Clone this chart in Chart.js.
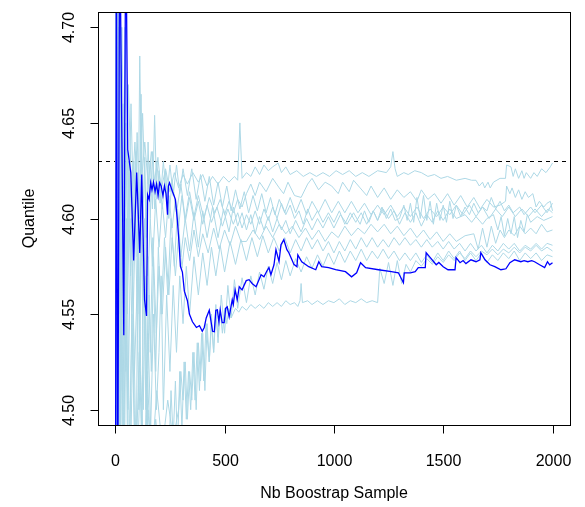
<!DOCTYPE html>
<html>
<head>
<meta charset="utf-8">
<script src="https://cdn.jsdelivr.net/npm/chart.js@4"></script>
<style>
  html, body { margin: 0; padding: 0; background: #fff; }
  canvas { display: block; }
</style>
</head>
<body>
<canvas id="quantileChart" width="585" height="507"></canvas>
<script>
// running quantile estimate vs. number of bootstrap samples: [n, quantile]
const mainRun = [
  [1,4.43],[5,4.76],[11,4.43],[20,4.76],[39,4.539],[48,4.76],[57,4.636],[71,4.624],
  [84,4.578],[98,4.624],[112,4.582],[121,4.623],[134,4.5575],[143,4.549],[148,4.6124],
  [155,4.61],[162,4.6187],[168,4.615],[175,4.619],[182,4.614],[189,4.618],[196,4.612],
  [203,4.6187],[210,4.617],[218,4.612],[225,4.617],[232,4.613],[239,4.602],[243,4.617],
  [248,4.6187],[262,4.614],[275,4.61],[284,4.599],[290,4.59],[298,4.575],[307,4.572],
  [316,4.562],[330,4.557],[339,4.55],[353,4.546],[371,4.543],[385,4.544],[398,4.541],
  [407,4.543],[416,4.548],[430,4.552],[445,4.541],[453,4.5408],[460,4.552],[467,4.5522],
  [474,4.546],[480,4.5522],[489,4.5455],[498,4.5455],[505,4.553],[512,4.5538],[521,4.5486],
  [535,4.5575],[540,4.555],[548,4.5627],[558,4.5575],[567,4.5643],[580,4.5627],[599,4.5675],
  [612,4.568],[626,4.566],[644,4.5643],[667,4.5706],[680,4.5695],[694,4.5727],[703,4.5743],
  [712,4.5706],[726,4.5758],[735,4.5837],[749,4.5775],[758,4.5863],[771,4.5889],[785,4.5837],
  [794,4.5821],[808,4.5784],[817,4.576],[831,4.5748],[835,4.581],[853,4.5774],[885,4.5748],
  [917,4.5732],[931,4.5774],[944,4.5748],[976,4.5743],[1008,4.5732],[1053,4.5722],
  [1081,4.5695],[1104,4.5716],[1122,4.5769],[1145,4.5743],[1204,4.5732],[1263,4.5722],
  [1295,4.5716],[1318,4.5664],[1322,4.5716],[1350,4.5716],[1372,4.5722],[1386,4.5743],
  [1418,4.5743],[1422,4.5821],[1441,4.5795],[1468,4.5758],[1480,4.577],[1500,4.5748],
  [1522,4.5732],[1554,4.5732],[1559,4.5795],[1577,4.5769],[1591,4.578],[1604,4.5764],
  [1627,4.5784],[1650,4.5774],[1668,4.5784],[1672,4.5821],[1691,4.5784],[1714,4.5758],
  [1736,4.5748],[1764,4.5732],[1787,4.5737],[1805,4.5769],[1827,4.5784],[1855,4.5774],
  [1870,4.578],[1887,4.5774],[1905,4.578],[1918,4.5774],[1941,4.5758],[1964,4.5743],
  [1977,4.5774],[1987,4.5758],[2000,4.5769]
];

// replicate runs
const rep1 = [
  [1,4.78],[6,4.42],[12,4.74],[20,4.55],[30,4.70],[45,4.58],[60,4.67],[75,4.61],[90,4.64],
  [105,4.60],[112,4.685],[120,4.62],[135,4.64],[150,4.618],[165,4.635],[180,4.62],[195,4.632],
  [210,4.615],[230,4.626],[250,4.614],[270,4.624],[290,4.616],[310,4.623],[330,4.618],
  [355,4.624],[380,4.619],[400,4.623],[420,4.617],[445,4.622],[470,4.618],[495,4.622],
  [520,4.619],[545,4.622],[560,4.620],[570,4.65],[580,4.621],[600,4.624],[620,4.622],
  [640,4.627],[660,4.623],[680,4.628],[700,4.625],[720,4.627],[745,4.629],[760,4.624],
  [780,4.627],[800,4.623],[830,4.625],[860,4.622],[890,4.624],[920,4.622],[950,4.624],
  [980,4.622],[1010,4.625],[1040,4.623],[1070,4.625],[1100,4.622],[1130,4.624],[1160,4.622],
  [1200,4.625],[1240,4.624],[1260,4.627],[1270,4.635],[1280,4.626],[1290,4.622],[1320,4.624],
  [1340,4.623],[1370,4.625],[1400,4.624],[1430,4.622],[1460,4.623],[1490,4.621],[1520,4.622],
  [1560,4.620],[1600,4.621],[1630,4.62],[1650,4.620],[1665,4.617],[1680,4.619],[1690,4.616],
  [1705,4.619],[1715,4.616],[1730,4.619],[1760,4.621],[1785,4.621],[1790,4.628],[1810,4.627],
  [1820,4.622],[1830,4.626],[1845,4.621],[1860,4.625],[1870,4.621],[1880,4.624],[1900,4.621],
  [1915,4.624],[1930,4.622],[1950,4.626],[1970,4.624],[1990,4.627],[2000,4.629]
];
const rep2 = [
  [1,4.43],[5,4.77],[14,4.50],[25,4.68],[38,4.56],[50,4.65],[70,4.57],[85,4.63],[100,4.58],
  [112,4.61],[125,4.655],[140,4.60],[160,4.63],[170,4.605],[180,4.654],[190,4.61],[200,4.625],
  [215,4.605],[230,4.625],[245,4.60],[260,4.62],[280,4.603],[300,4.618],[320,4.60],[340,4.614],
  [360,4.601],[380,4.612],[405,4.60],[430,4.611],[455,4.603],[480,4.61],[500,4.602],[520,4.609],
  [540,4.603],[560,4.61],[580,4.606],[600,4.613],[620,4.618],[640,4.612],[660,4.619],[690,4.614],
  [720,4.621],[750,4.616],[770,4.613],[790,4.619],[820,4.612],[850,4.611],[880,4.618],
  [900,4.621],[930,4.615],[960,4.619],[990,4.617],[1020,4.613],[1040,4.619],[1070,4.614],
  [1090,4.620],[1120,4.616],[1150,4.612],[1170,4.617],[1200,4.611],[1230,4.616],[1260,4.610],
  [1290,4.615],[1320,4.611],[1350,4.614],[1380,4.609],[1400,4.615],[1430,4.610],[1460,4.613],
  [1490,4.608],[1520,4.613],[1550,4.607],[1580,4.612],[1610,4.606],[1640,4.611],[1670,4.605],
  [1700,4.61],[1730,4.606],[1760,4.607],[1785,4.609],[1790,4.617],[1805,4.613],[1815,4.616],
  [1830,4.611],[1845,4.615],[1860,4.610],[1875,4.614],[1890,4.611],[1910,4.613],[1925,4.606],
  [1940,4.609],[1960,4.606],[1975,4.608],[1990,4.609],[2000,4.604]
];
const rep3 = [
  [1,4.47],[4,4.72],[10,4.41],[18,4.66],[28,4.52],[42,4.64],[55,4.55],[68,4.62],[80,4.57],
  [95,4.635],[110,4.55],[120,4.59],[130,4.56],[140,4.61],[150,4.57],[160,4.60],[170,4.575],
  [185,4.61],[200,4.585],[215,4.608],[230,4.59],[245,4.612],[260,4.595],[275,4.61],[290,4.596],
  [305,4.612],[320,4.598],[340,4.611],[360,4.599],[380,4.609],[400,4.597],[420,4.607],
  [440,4.598],[465,4.606],[490,4.596],[515,4.605],[540,4.597],[560,4.603],[580,4.595],
  [600,4.602],[620,4.597],[640,4.604],[660,4.597],[680,4.605],[700,4.599],[720,4.606],
  [740,4.600],[760,4.608],[780,4.602],[800,4.607],[820,4.600],[840,4.604],[860,4.597],
  [880,4.605],[900,4.599],[925,4.604],[950,4.598],[975,4.603],[1000,4.598],[1025,4.604],
  [1050,4.597],[1075,4.603],[1100,4.598],[1125,4.603],[1150,4.597],[1180,4.604],[1200,4.599],
  [1220,4.606],[1240,4.600],[1260,4.605],[1280,4.599],[1300,4.600],[1320,4.607],[1335,4.599],
  [1350,4.608],[1365,4.598],[1380,4.611],[1395,4.600],[1410,4.612],[1425,4.599],[1440,4.609],
  [1455,4.597],[1470,4.608],[1485,4.599],[1500,4.607],[1515,4.598],[1530,4.609],[1545,4.600],
  [1560,4.607],[1580,4.601],[1600,4.606],[1620,4.602],[1640,4.608],[1660,4.603],[1680,4.606],
  [1700,4.604],[1720,4.611],[1740,4.605],[1760,4.609],[1780,4.604],[1800,4.607],[1820,4.603],
  [1850,4.606],[1870,4.602],[1900,4.606],[1920,4.603],[1950,4.607],[1975,4.603],[2000,4.608]
];
const rep4 = [
  [1,4.76],[7,4.45],[15,4.70],[24,4.48],[35,4.66],[48,4.52],[62,4.63],[78,4.53],[92,4.60],
  [108,4.50],[118,4.64],[125,4.55],[135,4.60],[142,4.49],[152,4.58],[160,4.53],[172,4.59],
  [185,4.52],[197,4.585],[210,4.55],[225,4.59],[240,4.56],[255,4.60],[270,4.575],[285,4.605],
  [300,4.58],[320,4.60],[340,4.583],[360,4.603],[380,4.585],[400,4.604],[420,4.59],[445,4.606],
  [470,4.59],[495,4.605],[520,4.593],[540,4.606],[560,4.596],[580,4.603],[600,4.594],
  [620,4.602],[640,4.592],[660,4.601],[680,4.594],[700,4.601],[720,4.593],[740,4.600],
  [760,4.594],[780,4.599],[800,4.592],[825,4.599],[850,4.593],[875,4.600],[900,4.594],
  [925,4.600],[950,4.595],[975,4.601],[1000,4.595],[1030,4.602],[1060,4.597],[1090,4.603],
  [1120,4.597],[1140,4.604],[1160,4.598],[1180,4.604],[1200,4.599],[1225,4.605],[1250,4.600],
  [1275,4.604],[1300,4.597],[1325,4.603],[1350,4.598],[1375,4.603],[1400,4.596],[1425,4.602],
  [1450,4.598],[1475,4.604],[1500,4.599],[1530,4.605],[1560,4.600],[1600,4.602],[1630,4.598],
  [1650,4.601],[1680,4.597],[1700,4.600],[1730,4.602],[1750,4.594],[1765,4.601],[1780,4.591],
  [1795,4.600],[1810,4.592],[1825,4.601],[1840,4.590],[1855,4.599],[1870,4.593],[1885,4.602],
  [1900,4.598],[1930,4.601],[1960,4.599],[2000,4.601]
];
const rep5 = [
  [1,4.41],[6,4.75],[13,4.46],[22,4.67],[32,4.51],[44,4.62],[58,4.50],[72,4.60],[88,4.52],
  [104,4.58],[112,4.52],[120,4.62],[128,4.50],[138,4.57],[146,4.49],[155,4.56],[165,4.52],
  [175,4.58],[188,4.54],[200,4.575],[215,4.55],[230,4.585],[245,4.56],[260,4.59],[275,4.57],
  [290,4.592],[305,4.574],[320,4.59],[340,4.578],[360,4.594],[380,4.58],[400,4.592],
  [425,4.582],[450,4.595],[475,4.584],[500,4.594],[525,4.586],[550,4.596],[575,4.588],
  [600,4.588],[630,4.594],[660,4.589],[690,4.596],[720,4.59],[750,4.597],[780,4.592],
  [810,4.596],[840,4.59],[870,4.595],[900,4.589],[930,4.594],[960,4.588],[990,4.593],
  [1020,4.590],[1050,4.596],[1080,4.591],[1110,4.595],[1140,4.592],[1170,4.597],[1200,4.593],
  [1230,4.597],[1260,4.592],[1290,4.596],[1320,4.591],[1350,4.595],[1380,4.590],[1410,4.594],
  [1440,4.589],[1470,4.593],[1500,4.588],[1530,4.592],[1560,4.588],[1600,4.591],[1640,4.592],
  [1660,4.584],[1680,4.595],[1700,4.585],[1720,4.596],[1740,4.587],[1760,4.594],[1780,4.590],
  [1800,4.594],[1825,4.591],[1850,4.596],[1875,4.592],[1900,4.595],[1925,4.592],[1950,4.597],
  [1975,4.593],[2000,4.594]
];
const rep6 = [
  [1,4.74],[5,4.43],[11,4.69],[20,4.47],[30,4.64],[40,4.49],[52,4.60],[65,4.48],[80,4.57],
  [96,4.47],[104,4.60],[112,4.55],[122,4.48],[130,4.58],[140,4.50],[150,4.54],[162,4.49],
  [175,4.55],[188,4.50],[200,4.53],[210,4.57],[220,4.50],[235,4.56],[250,4.52],[265,4.565],
  [280,4.53],[295,4.57],[310,4.545],[325,4.575],[340,4.55],[360,4.58],[380,4.56],[400,4.582],
  [420,4.565],[440,4.585],[460,4.57],[480,4.586],[500,4.572],[525,4.588],[550,4.576],
  [575,4.589],[600,4.578],[625,4.590],[650,4.580],[675,4.591],[700,4.582],[725,4.590],
  [750,4.583],[775,4.590],[800,4.582],[825,4.589],[850,4.583],[875,4.590],[900,4.584],
  [925,4.589],[950,4.583],[975,4.588],[1000,4.582],[1025,4.588],[1050,4.583],[1075,4.589],
  [1100,4.584],[1125,4.590],[1150,4.585],[1175,4.590],[1200,4.585],[1225,4.589],[1250,4.585],
  [1275,4.590],[1300,4.586],[1325,4.590],[1350,4.586],[1375,4.589],[1400,4.585],[1425,4.589],
  [1450,4.585],[1475,4.588],[1500,4.584],[1525,4.588],[1550,4.584],[1575,4.587],[1600,4.583],
  [1625,4.587],[1650,4.583],[1675,4.586],[1700,4.582],[1725,4.586],[1750,4.583],[1775,4.587],
  [1800,4.584],[1825,4.587],[1850,4.583],[1875,4.586],[1900,4.584],[1925,4.587],[1950,4.584],
  [1975,4.587],[2000,4.586]
];
const rep7 = [
  [1,4.45],[6,4.70],[12,4.42],[22,4.62],[34,4.45],[46,4.58],[60,4.44],[76,4.55],[92,4.46],
  [110,4.53],[128,4.45],[146,4.52],[165,4.47],[190,4.51],[215,4.48],[240,4.505],[265,4.485],
  [290,4.50],[300,4.52],[310,4.505],[320,4.525],[330,4.495],[340,4.52],[350,4.505],[360,4.53],
  [370,4.50],[380,4.535],[390,4.515],[400,4.54],[410,4.51],[420,4.545],[430,4.525],[440,4.55],
  [450,4.53],[460,4.555],[470,4.535],[485,4.56],[500,4.54],[515,4.565],[530,4.548],[545,4.568],
  [560,4.553],[580,4.569],[600,4.556],[620,4.57],[640,4.56],[660,4.572],[680,4.563],[700,4.575],
  [720,4.566],[740,4.577],[760,4.568],[780,4.578],[800,4.570],[825,4.579],[850,4.572],
  [875,4.580],[900,4.574],[925,4.581],[950,4.575],[975,4.582],[1000,4.576],[1025,4.583],
  [1050,4.577],[1075,4.583],[1100,4.578],[1125,4.584],[1150,4.578],[1175,4.583],[1200,4.579],
  [1225,4.584],[1250,4.579],[1275,4.583],[1300,4.578],[1325,4.582],[1350,4.578],[1375,4.582],
  [1400,4.577],[1425,4.581],[1450,4.577],[1475,4.582],[1500,4.578],[1525,4.583],[1550,4.579],
  [1575,4.583],[1600,4.578],[1625,4.582],[1650,4.578],[1675,4.582],[1700,4.577],[1725,4.581],
  [1750,4.578],[1775,4.582],[1800,4.579],[1825,4.583],[1850,4.578],[1875,4.582],[1900,4.579],
  [1925,4.582],[1950,4.578],[1975,4.581],[2000,4.58]
];
const rep8 = [
  [1,4.70],[5,4.40],[10,4.66],[18,4.44],[28,4.60],[38,4.42],[50,4.57],[64,4.43],[80,4.54],
  [95,4.45],[115,4.52],[135,4.46],[150,4.50],[165,4.47],[185,4.495],[205,4.47],[225,4.49],
  [245,4.475],[255,4.51],[265,4.485],[275,4.515],[285,4.48],[295,4.52],[305,4.49],[315,4.525],
  [325,4.495],[335,4.52],[345,4.50],[355,4.53],[365,4.505],[375,4.535],[385,4.51],[395,4.54],
  [405,4.515],[415,4.545],[430,4.525],[440,4.545],[450,4.53],[460,4.55],[470,4.538],[480,4.552],
  [490,4.54],[500,4.553],[510,4.545],[520,4.553],[530,4.548],[550,4.553],[565,4.551],
  [580,4.554],[600,4.552],[620,4.555],[640,4.553],[660,4.555],[680,4.553],[700,4.556],
  [720,4.554],[740,4.556],[760,4.554],[780,4.557],[800,4.555],[820,4.556],[835,4.554],
  [845,4.557],[850,4.566],[856,4.556],[880,4.557],[900,4.555],[925,4.557],[950,4.555],
  [975,4.557],[1000,4.556],[1025,4.558],[1050,4.555],[1075,4.557],[1100,4.556],[1125,4.558],
  [1150,4.556],[1175,4.557],[1200,4.556],[1210,4.574],[1230,4.566],[1250,4.577],[1270,4.565],
  [1290,4.578],[1310,4.566],[1330,4.576],[1350,4.572],[1375,4.578],[1400,4.575],[1425,4.579],
  [1450,4.576],[1475,4.58],[1500,4.577],[1525,4.581],[1550,4.578],[1575,4.582],[1600,4.579],
  [1625,4.583],[1650,4.58],[1675,4.583],[1700,4.581],[1725,4.584],[1750,4.581],[1775,4.584],
  [1800,4.582],[1825,4.585],[1850,4.582],[1875,4.585],[1900,4.583],[1925,4.586],[1950,4.583],
  [1975,4.585],[2000,4.583]
];
const rep9 = [
  [1,4.50],[5,4.79],[12,4.52],[21,4.73],[33,4.57],[45,4.70],[58,4.58],[72,4.66],[86,4.59],
  [100,4.645],[110,4.60],[118,4.665],[126,4.60],[135,4.632],[142,4.59],[150,4.64],[160,4.60],
  [170,4.635],[180,4.605],[190,4.63],[205,4.608],[220,4.63],[235,4.61],[250,4.628],[265,4.612],
  [280,4.628],[295,4.613],[310,4.626],[330,4.612],[350,4.626],[370,4.61],[390,4.623],
  [410,4.609],[430,4.622],[450,4.607],[470,4.619],[490,4.606],[510,4.617],[530,4.604],
  [550,4.615],[570,4.605],[590,4.614],[610,4.603],[630,4.612],[650,4.604],[670,4.613],
  [690,4.603],[710,4.611],[730,4.602],[750,4.610],[775,4.603],[800,4.611],[825,4.603],
  [850,4.610],[875,4.602],[900,4.609],[930,4.603],[960,4.610],[990,4.603],[1020,4.609],
  [1050,4.603],[1080,4.609],[1110,4.603],[1140,4.608],[1170,4.602],[1200,4.607],[1230,4.602],
  [1260,4.607],[1290,4.601],[1320,4.606],[1350,4.601],[1380,4.606],[1410,4.600],[1440,4.605],
  [1470,4.601],[1500,4.606],[1530,4.602],[1560,4.607],[1590,4.602],[1620,4.607],[1650,4.601],
  [1680,4.606],[1710,4.600],[1740,4.605],[1770,4.601],[1800,4.606],[1830,4.601],[1860,4.605],
  [1890,4.601],[1920,4.605],[1950,4.601],[1980,4.605],[2000,4.603]
];

const replicates = [rep1, rep2, rep3, rep4, rep5, rep6, rep7, rep8, rep9];

// true quantile (dashed reference)
const trueQuantile = 4.63;

// axis ticks and limits
const xTicks = [0, 500, 1000, 1500, 2000];
const yTicks = [4.50, 4.55, 4.60, 4.65, 4.70];
const xLimits = [-79, 2080];
const yLimits = [4.492, 4.708];

const toPoints = arr => arr.map(p => ({ x: p[0], y: p[1] }));

const FONT = '16px "Liberation Sans", Arial, Helvetica, sans-serif';

// R-style box, axes, ticks and labels, plus the reference line
const baseGraphics = {
  id: "baseGraphics",
  beforeDatasetsDraw(chart) {
    const ctx = chart.ctx;
    const area = chart.chartArea;
    const yScale = chart.scales.y;
    const yRef = Math.round(yScale.getPixelForValue(trueQuantile)) + 0.5;
    ctx.save();
    ctx.beginPath();
    ctx.rect(area.left, area.top, area.right - area.left, area.bottom - area.top);
    ctx.clip();
    ctx.strokeStyle = "#000";
    ctx.lineWidth = 1;
    ctx.setLineDash([4, 4]);
    ctx.beginPath();
    ctx.moveTo(area.left, yRef);
    ctx.lineTo(area.right, yRef);
    ctx.stroke();
    ctx.restore();
  },
  afterDraw(chart) {
    const ctx = chart.ctx;
    const area = chart.chartArea;
    const xScale = chart.scales.x;
    const yScale = chart.scales.y;

    ctx.save();
    ctx.strokeStyle = "#000";
    ctx.fillStyle = "#000";
    ctx.lineWidth = 1;

    // plot box
    ctx.strokeRect(Math.round(area.left) + 0.5, Math.round(area.top) + 0.5,
      Math.round(area.right - area.left), Math.round(area.bottom - area.top));

    ctx.font = FONT;
    ctx.textAlign = "center";
    ctx.textBaseline = "middle";

    // x axis
    const xb = Math.round(area.bottom) + 0.5;
    xScale.ticks.forEach(t => {
      const px = Math.round(xScale.getPixelForValue(t.value)) + 0.5;
      ctx.beginPath();
      ctx.moveTo(px, xb);
      ctx.lineTo(px, xb + 8);
      ctx.stroke();
      ctx.fillText(String(t.value), px, 462);
    });

    // y axis (labels written parallel to the axis)
    const yl = Math.round(area.left) + 0.5;
    yScale.ticks.forEach(t => {
      const py = Math.round(yScale.getPixelForValue(t.value)) + 0.5;
      ctx.beginPath();
      ctx.moveTo(yl, py);
      ctx.lineTo(yl - 8, py);
      ctx.stroke();
      ctx.save();
      ctx.translate(70, py);
      ctx.rotate(-Math.PI / 2);
      ctx.fillText(t.value.toFixed(2), 0, 0);
      ctx.restore();
    });

    // axis titles
    ctx.fillText("Nb Boostrap Sample", (area.left + area.right) / 2, 494);
    ctx.save();
    ctx.translate(30, (area.top + area.bottom) / 2);
    ctx.rotate(-Math.PI / 2);
    ctx.fillText("Quantile", 0, 0);
    ctx.restore();

    ctx.restore();
  }
};

const datasets = [{
  data: toPoints(mainRun),
  borderColor: "#0000ff",
  borderWidth: 1.3
}].concat(replicates.map(r => ({
  data: toPoints(r),
  borderColor: "#add8e6",
  borderWidth: 1
})));

new Chart(document.getElementById("quantileChart"), {
  type: "line",
  data: { datasets: datasets },
  options: {
    responsive: false,
    animation: false,
    events: [],
    layout: { padding: { left: 98, right: 15, top: 12, bottom: 82 } },
    elements: {
      point: { radius: 0 },
      line: { tension: 0, fill: false }
    },
    plugins: {
      legend: { display: false },
      tooltip: { enabled: false }
    },
    scales: {
      x: {
        type: "linear",
        display: false,
        min: xLimits[0],
        max: xLimits[1],
        afterBuildTicks: s => { s.ticks = xTicks.map(v => ({ value: v })); }
      },
      y: {
        type: "linear",
        display: false,
        min: yLimits[0],
        max: yLimits[1],
        afterBuildTicks: s => { s.ticks = yTicks.map(v => ({ value: v })); }
      }
    }
  },
  plugins: [baseGraphics]
});
</script>
</body>
</html>
